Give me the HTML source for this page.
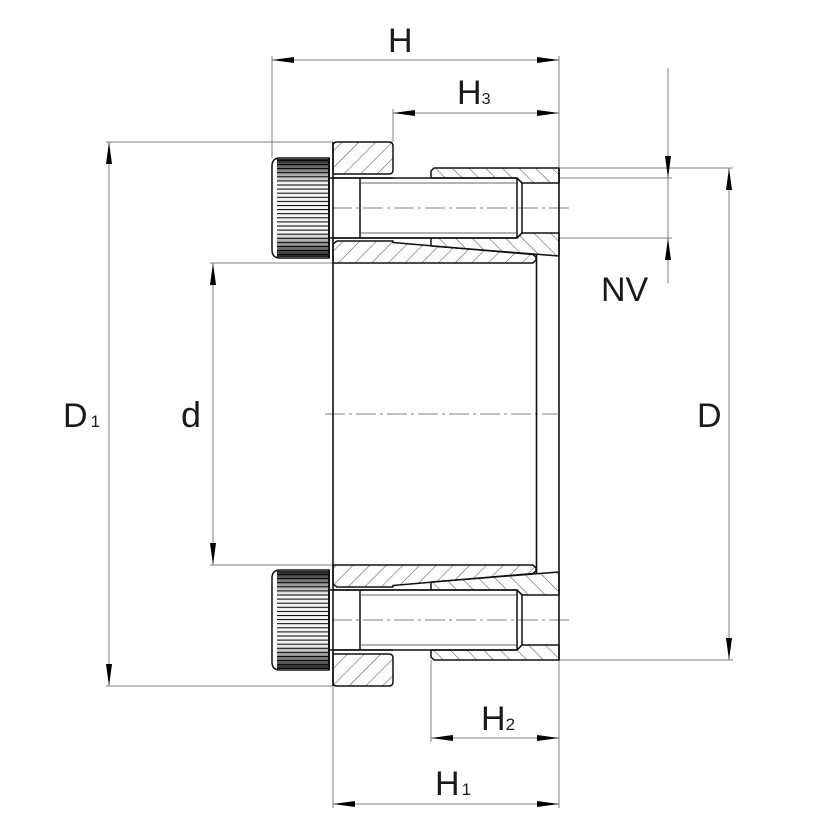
<!DOCTYPE html>
<html><head><meta charset="utf-8"><style>
html,body{margin:0;padding:0;background:#fff;}
svg{display:block;}
text{font-family:"Liberation Sans",sans-serif;fill:#1a1a1a;}
</style></head><body>
<svg width="832" height="832" viewBox="0 0 832 832" xmlns="http://www.w3.org/2000/svg">
<defs>
<pattern id="hs" width="11.8" height="11.8" patternUnits="userSpaceOnUse" patternTransform="rotate(45)">
<line x1="0" y1="0" x2="0" y2="11.8" stroke="#555" stroke-width="1.1"/></pattern>
<pattern id="hb" width="11.8" height="11.8" patternUnits="userSpaceOnUse" patternTransform="rotate(-45)">
<line x1="0" y1="0" x2="0" y2="11.8" stroke="#555" stroke-width="1.1"/></pattern>
<pattern id="kn" width="10" height="4.1" patternUnits="userSpaceOnUse">
<rect width="10" height="1" fill="#000"/></pattern>
<linearGradient id="kg" x1="0" y1="0" x2="0" y2="1">
<stop offset="0" stop-color="#222"/><stop offset="0.1" stop-color="#777"/>
<stop offset="0.25" stop-color="#f4f4f4"/><stop offset="0.75" stop-color="#f4f4f4"/>
<stop offset="0.9" stop-color="#777"/><stop offset="1" stop-color="#222"/></linearGradient>
<clipPath id="k1"><rect x="277" y="159" width="52" height="98"/></clipPath>
<clipPath id="k2"><rect x="277" y="571" width="52" height="98"/></clipPath>
</defs>

<!-- dimension / extension lines -->
<g stroke="#808080" stroke-width="1" fill="none">
<line x1="272" y1="60" x2="559" y2="60"/>
<line x1="393" y1="113" x2="559" y2="113"/>
<line x1="431" y1="738" x2="559" y2="738"/>
<line x1="333" y1="804" x2="559" y2="804"/>
<line x1="109" y1="142" x2="109" y2="686"/>
<line x1="213" y1="263" x2="213" y2="565"/>
<line x1="729" y1="168" x2="729" y2="660"/>
<line x1="668" y1="68" x2="668" y2="283"/>
<line x1="272" y1="56" x2="272" y2="158"/>
<line x1="559" y1="56" x2="559" y2="168"/>
<line x1="393" y1="109" x2="393" y2="142"/>
<line x1="431" y1="660" x2="431" y2="742"/>
<line x1="333" y1="686" x2="333" y2="808"/>
<line x1="559" y1="660" x2="559" y2="808"/>
<line x1="106" y1="142" x2="333" y2="142"/>
<line x1="106" y1="686" x2="333" y2="686"/>
<line x1="210" y1="263" x2="333" y2="263"/>
<line x1="210" y1="565" x2="333" y2="565"/>
<line x1="559" y1="168" x2="733" y2="168"/>
<line x1="559" y1="660" x2="733" y2="660"/>
<line x1="559" y1="178" x2="672" y2="178"/>
<line x1="559" y1="238" x2="672" y2="238"/>
</g>
<g stroke="#808080" stroke-width="1" fill="none" stroke-dasharray="20,4,3,4">
<line x1="332" y1="208" x2="571" y2="208"/>
<line x1="332" y1="620" x2="572" y2="620"/>
<line x1="325" y1="414" x2="558" y2="414"/>
</g>
<g fill="#000">
<polygon points="272,60 294,57 294,63"/><polygon points="559,60 537,57 537,63"/>
<polygon points="393,113 415,110 415,116"/><polygon points="559,113 537,110 537,116"/>
<polygon points="431,738 453,735 453,741"/><polygon points="559,738 537,735 537,741"/>
<polygon points="333,804 355,801 355,807"/><polygon points="559,804 537,801 537,807"/>
<polygon points="109,142 106,164 112,164"/><polygon points="109,686 106,664 112,664"/>
<polygon points="213,263 210,285 216,285"/><polygon points="213,565 210,543 216,543"/>
<polygon points="729,168 726,190 732,190"/><polygon points="729,660 726,638 732,638"/>
<polygon points="668,178 665,156 671,156"/><polygon points="668,238 665,260 671,260"/>
</g>

<!-- TOP HALF -->
<g stroke="#111" stroke-width="1.5" stroke-linejoin="round">
<path d="M337,142 H389 Q393,142 393,146 V170 Q393,174 389,174 H333 V146 Q333,142 337,142 Z" fill="url(#hs)"/>
<line x1="333" y1="178" x2="393" y2="178"/>
<path d="M434,168 H559 V183 H522 L517,178 H431 V171 Z" fill="url(#hb)"/>
<path d="M431,238 H517 L522,233 H559 V256 L431,246 Z" fill="url(#hb)"/>
<path d="M333,244 L337,241 H393 V242.5 L533,254.5 L536,257 V260 L533,263 H333 Z" fill="url(#hs)"/>
<path d="M329,178 H517 V238 H329" fill="none"/>
<line x1="360" y1="178" x2="360" y2="238"/>
<line x1="517" y1="178" x2="522" y2="183"/><line x1="517" y1="238" x2="522" y2="233"/>
<line x1="522" y1="183" x2="522" y2="233"/>
<line x1="333" y1="238" x2="431" y2="238"/>
</g>
<g stroke="#333" stroke-width="0.8">
<line x1="360" y1="183" x2="517" y2="183"/><line x1="360" y1="233" x2="517" y2="233"/>
</g>
<path d="M329,158 H280 Q272,158 272,166 V250 Q272,258 280,258 H329 Z" fill="#fff" stroke="#111" stroke-width="1.5"/>
<g clip-path="url(#k1)"><rect x="277" y="159" width="52" height="98" fill="url(#kg)"/><rect x="277" y="159" width="52" height="98" fill="url(#kn)"/></g>
<line x1="329" y1="158" x2="329" y2="258" stroke="#111" stroke-width="2"/>

<!-- BOTTOM HALF -->
<g stroke="#111" stroke-width="1.5" stroke-linejoin="round">
<path d="M337,686 H389 Q393,686 393,682 V658 Q393,654 389,654 H333 V682 Q333,686 337,686 Z" fill="url(#hs)"/>
<line x1="333" y1="650" x2="393" y2="650"/>
<path d="M434,660 H559 V645 H522 L517,650 H431 V657 Z" fill="url(#hb)"/>
<path d="M431,590 H517 L522,595 H559 V572 L431,582 Z" fill="url(#hb)"/>
<path d="M333,584 L337,587 H393 V585.5 L533,573.5 L536,571 V568 L533,565 H333 Z" fill="url(#hs)"/>
<path d="M329,650 H517 V590 H329" fill="none"/>
<line x1="360" y1="590" x2="360" y2="650"/>
<line x1="517" y1="650" x2="522" y2="645"/><line x1="517" y1="590" x2="522" y2="595"/>
<line x1="522" y1="645" x2="522" y2="595"/>
<line x1="333" y1="590" x2="431" y2="590"/>
</g>
<g stroke="#333" stroke-width="0.8">
<line x1="360" y1="645" x2="517" y2="645"/><line x1="360" y1="595" x2="517" y2="595"/>
</g>
<path d="M329,570 H280 Q272,570 272,578 V662 Q272,670 280,670 H329 Z" fill="#fff" stroke="#111" stroke-width="1.5"/>
<g clip-path="url(#k2)"><rect x="277" y="571" width="52" height="98" fill="url(#kg)"/><rect x="277" y="571" width="52" height="98" fill="url(#kn)"/></g>
<line x1="329" y1="570" x2="329" y2="670" stroke="#111" stroke-width="2"/>

<g stroke="#111" stroke-width="1.6">
<line x1="333" y1="142" x2="333" y2="686"/>
<line x1="536.5" y1="254" x2="536.5" y2="574"/>
<line x1="559" y1="168" x2="559" y2="660"/>
</g>

<text x="388" y="52" font-size="34">H</text>
<text x="457" y="104" font-size="34">H<tspan font-size="16">3</tspan></text>
<text x="601" y="301" font-size="34">NV</text>
<text x="63" y="427" font-size="34">D<tspan font-size="17" dx="3">1</tspan></text>
<text x="181" y="427" font-size="36">d</text>
<text x="697" y="427" font-size="34">D</text>
<text x="481" y="730" font-size="34">H<tspan font-size="17">2</tspan></text>
<text x="435" y="795" font-size="34">H<tspan font-size="17" dx="2">1</tspan></text>
</svg>
</body></html>
